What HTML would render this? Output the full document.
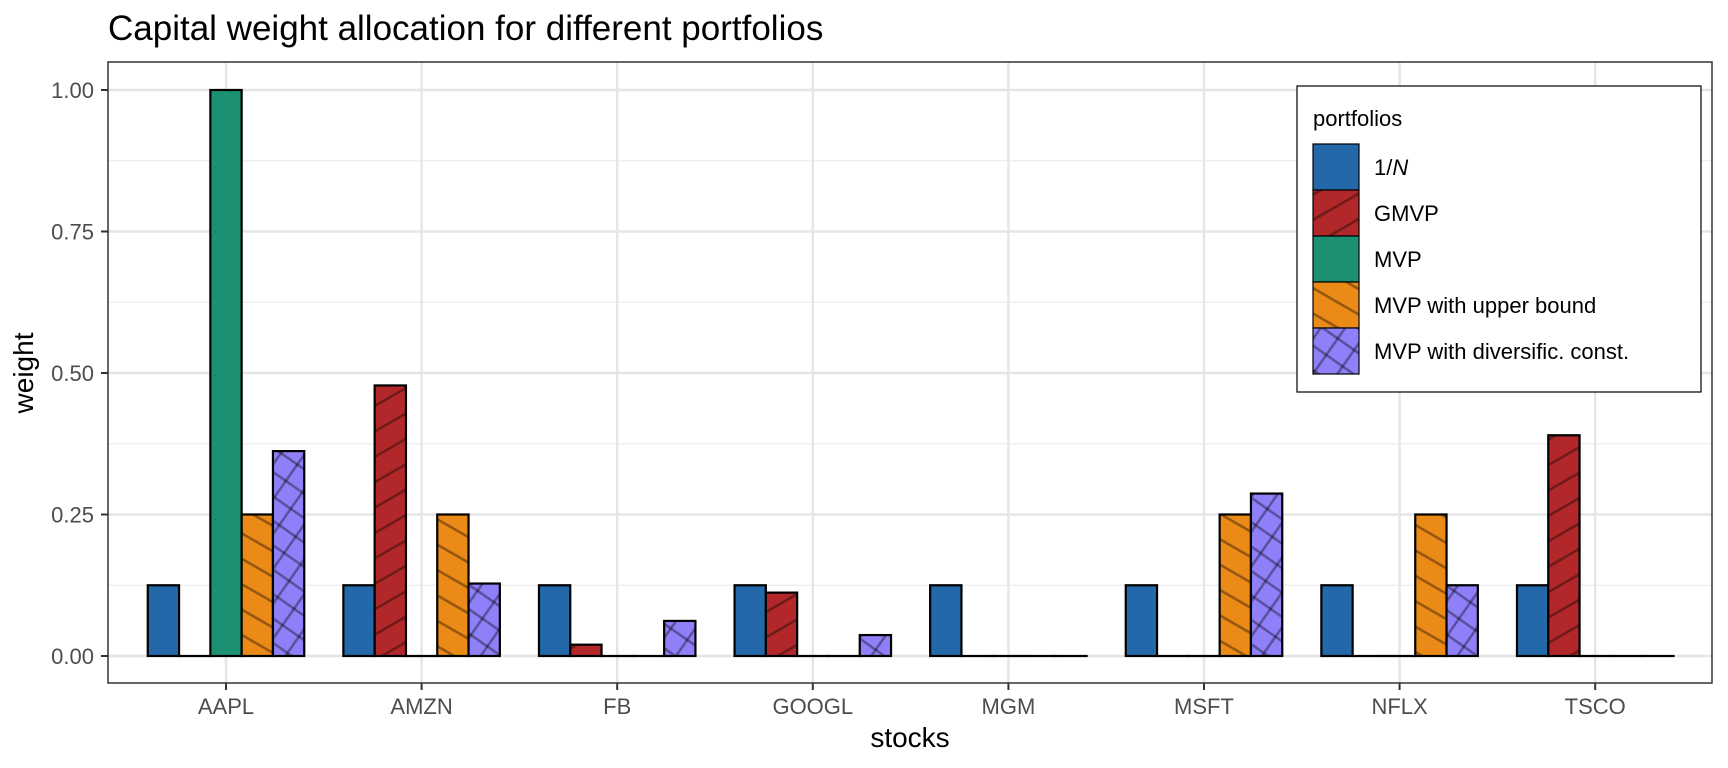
<!DOCTYPE html>
<html><head><meta charset="utf-8"><style>
body{margin:0;background:#fff;}
svg{display:block;font-family:"Liberation Sans",Arial,sans-serif;}
</style></head><body>
<svg id="chart" width="1728" height="768" viewBox="0 0 1728 768" xmlns="http://www.w3.org/2000/svg">
<defs>
<pattern id="pat-red" width="22" height="22" patternUnits="userSpaceOnUse" patternTransform="rotate(-30)"><rect width="22" height="22" fill="#b2282a"/><line x1="0" y1="11" x2="22" y2="11" stroke="rgba(0,0,0,0.38)" stroke-width="2.5"/></pattern>
<pattern id="pat-orange" width="22" height="22" patternUnits="userSpaceOnUse" patternTransform="rotate(30)"><rect width="22" height="22" fill="#ec8a17"/><line x1="0" y1="11" x2="22" y2="11" stroke="rgba(0,0,0,0.38)" stroke-width="2.5"/></pattern>
<pattern id="pat-purple" width="20" height="20" patternUnits="userSpaceOnUse" patternTransform="rotate(35)"><rect width="20" height="20" fill="#8f80fa"/><line x1="0" y1="10" x2="20" y2="10" stroke="rgba(0,0,0,0.38)" stroke-width="2.5"/><line x1="10" y1="0" x2="10" y2="20" stroke="rgba(0,0,0,0.38)" stroke-width="2.5"/></pattern>
<pattern id="pat-green" width="16" height="16" patternUnits="userSpaceOnUse"><rect width="16" height="16" fill="#1b9072"/><circle cx="8" cy="8" r="1.2" fill="rgba(0,0,0,0.15)"/></pattern>
</defs>
<text x="108" y="40" font-size="35" fill="#000">Capital weight allocation for different portfolios</text>
<g id="grid"></g>
<g id="bars"></g>
<rect x="108" y="62" width="1604" height="621" fill="none" stroke="#333" stroke-width="1.5"/>
<g id="axes"></g>
<text x="910" y="747" font-size="28" text-anchor="middle">stocks</text>
<text transform="translate(33,373) rotate(-90)" font-size="28" text-anchor="middle">weight</text>
<g>
<rect x="1297" y="86" width="404" height="306" fill="#fff" stroke="#000" stroke-width="1.2"/>
<text x="1313" y="126" font-size="22">portfolios</text>
<g id="legend-items"></g>
</g>
</svg>
<script>
const categories = ["AAPL","AMZN","FB","GOOGL","MGM","MSFT","NFLX","TSCO"];
const seriesNames = ["1/N","GMVP","MVP","MVP with upper bound","MVP with diversific. const."];
const s1N = [0.125,0.125,0.125,0.125,0.125,0.125,0.125,0.125];
const sGMVP = [0,0.478,0.02,0.112,0,0,0,0.39];
const sMVP = [1,0,0,0,0,0,0,0];
const sUpper = [0.25,0.25,0,0,0,0.25,0.25,0];
const sDiv = [0.362,0.128,0.062,0.037,0,0.287,0.125,0];
const yTicks = [0,0.25,0.5,0.75,1];
const yTickLabels = ["0.00","0.25","0.50","0.75","1.00"];
const fills = ["#2369aa","url(#pat-red)","url(#pat-green)","url(#pat-orange)","url(#pat-purple)"];
const NS="http://www.w3.org/2000/svg";
const series=[s1N,sGMVP,sMVP,sUpper,sDiv];
const X0=226, STEP=195.6;
function xScale(i){return X0+i*STEP;}
function yScale(v){return 656-v*566;}
function mk(tag,attrs,parent){const e=document.createElementNS(NS,tag);for(const k in attrs)e.setAttribute(k,attrs[k]);parent.appendChild(e);return e;}
const grid=document.getElementById('grid'),bars=document.getElementById('bars'),axes=document.getElementById('axes');
mk('rect',{x:108,y:62,width:1604,height:621,fill:'#fff'},grid);
for(let k=0;k<yTicks.length-1;k++){const v=(yTicks[k]+yTicks[k+1])/2;
 const l=mk('line',{x1:108,x2:1712,y1:yScale(v),y2:yScale(v),stroke:'#ebebeb','stroke-width':1.2},grid);
 
 }
yTicks.forEach((v,k)=>{
 const l=mk('line',{x1:108,x2:1712,y1:yScale(v),y2:yScale(v),stroke:'#e5e5e5','stroke-width':2.4},grid);
 
 
 const t=mk('line',{x1:101,x2:108,y1:yScale(v),y2:yScale(v),stroke:'#333','stroke-width':2},axes);
 
 
 const tx=mk('text',{x:94,y:yScale(v)+8,'font-size':22,'text-anchor':'end',fill:'#4d4d4d'},axes);
 tx.textContent=yTickLabels[k];
 
 
});
categories.forEach((c,i)=>{
 const x=xScale(i);
 const l=mk('line',{x1:x,x2:x,y1:62,y2:683,stroke:'#e5e5e5','stroke-width':2.4},grid);
 
 
 const t=mk('line',{x1:x,x2:x,y1:683,y2:690,stroke:'#333','stroke-width':2},axes);
 
 
 const tx=mk('text',{x:x,y:714,'font-size':22,'text-anchor':'middle',fill:'#4d4d4d'},axes);
 tx.textContent=c;
 
 
 const bw=STEP*0.8/5;
 series.forEach((s,j)=>{
  const bx=x-STEP*0.4+j*bw, y=yScale(s[i]), y0=yScale(0);
  const r=mk('rect',{x:bx,y:Math.min(y,y0),width:bw,height:Math.max(Math.abs(y0-y),0.01),fill:fills[j],stroke:'#000','stroke-width':2.2},bars);
  
  
 });
});
const li=document.getElementById('legend-items');
seriesNames.forEach((n,j)=>{
 const y=144+j*46;
 const r=mk('rect',{x:1313,y:y,width:46,height:46,fill:fills[j],stroke:'#000','stroke-width':1.2},li);
 
 
 const t=mk('text',{x:1374,y:y+31,'font-size':22},li);
 if(j===0){t.textContent='1/';const it=mk('tspan',{'font-style':'italic'},t);it.textContent='N';}
 else t.textContent=n;
 
 
});
</script>
</body></html>
